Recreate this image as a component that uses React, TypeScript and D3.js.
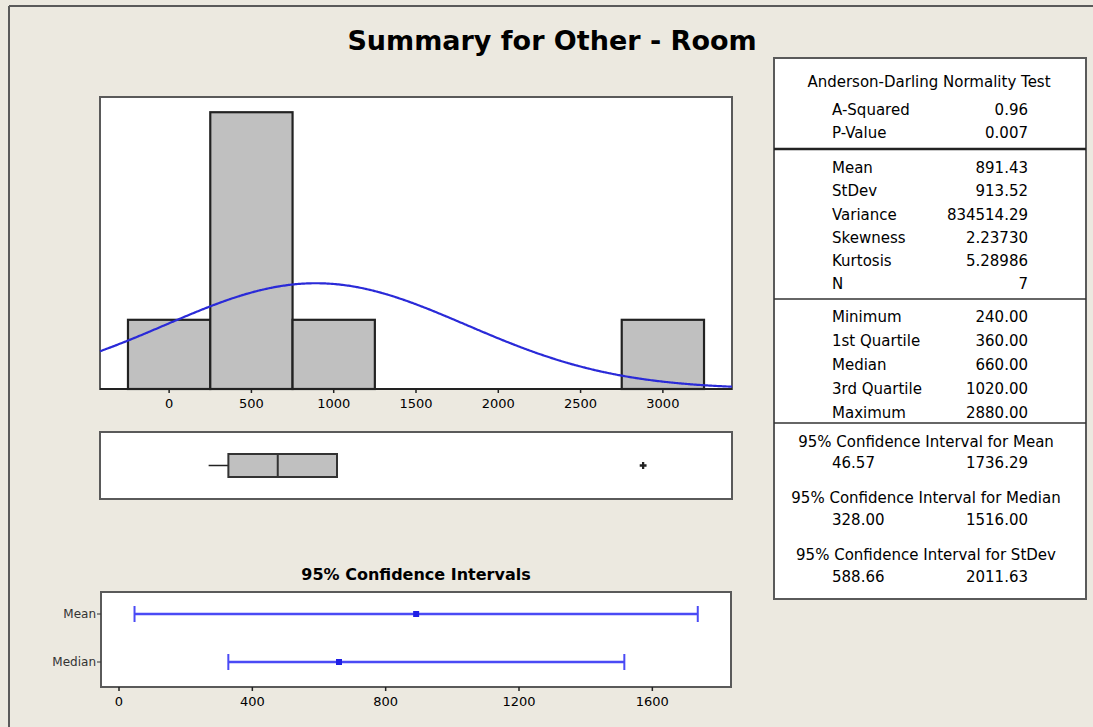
import React from "react";
import * as d3 from "d3";

// histogram
const binStarts = [-250, 250, 750, 1250, 1750, 2250, 2750];
const binCounts = [1, 4, 1, 0, 0, 0, 1];
const binWidth = 500;
const histTicks = [0, 500, 1000, 1500, 2000, 2500, 3000];

// normal fit
const mean = 891.43;
const stdev = 913.52;
const n = 7;

// box plot
const quartiles = [360, 660, 1020];
const whiskers = [240, 1020];
const outliers = [2880];

// confidence intervals
const ciNames = ["Mean", "Median"];
const ciLow = [46.57, 328.0];
const ciHigh = [1736.29, 1516.0];
const ciCenter = [891.43, 660.0];
const ciTicks = [0, 400, 800, 1200, 1600];

// stats table
const adLabels = ["A-Squared", "P-Value"];
const adValues = ["0.96", "0.007"];
const momentLabels = ["Mean", "StDev", "Variance", "Skewness", "Kurtosis", "N"];
const momentValues = ["891.43", "913.52", "834514.29", "2.23730", "5.28986", "7"];
const quantLabels = ["Minimum", "1st Quartile", "Median", "3rd Quartile", "Maximum"];
const quantValues = ["240.00", "360.00", "660.00", "1020.00", "2880.00"];
const ciTitles = [
  "95% Confidence Interval for Mean",
  "95% Confidence Interval for Median",
  "95% Confidence Interval for StDev",
];
const ciTableLow = ["46.57", "328.00", "588.66"];
const ciTableHigh = ["1736.29", "1516.00", "2011.63"];

const W = 1093;
const H = 727;
const BG = "#ece9e0";
const FRAME = "#5a5a5a";
const FONT = "'DejaVu Sans', Verdana, sans-serif";

const Histogram = ({ x }) => {
  const top = 97, bottom = 389;
  const y = d3.scaleLinear().domain([0, 4.22]).range([bottom, top]);
  const [x0, x1] = x.range();
  const curveX = d3.range(x.domain()[0], x.domain()[1] + 1, 10);
  const pdf = v => (n * binWidth) / (stdev * Math.sqrt(2 * Math.PI)) * Math.exp(-0.5 * ((v - mean) / stdev) ** 2);
  const line = d3.line().x(d => x(d)).y(d => y(pdf(d))).curve(d3.curveBasis);
  return (
    <g>
      <rect x={x0} y={top} width={x1 - x0} height={bottom - top} fill="white" stroke={FRAME} strokeWidth={2} />
      {binStarts.map((b, i) => binCounts[i] > 0 && (
        <rect key={i} x={x(b)} y={y(binCounts[i])} width={x(b + binWidth) - x(b)} height={y(0) - y(binCounts[i])}
          fill="#c0c0c0" stroke="#222" strokeWidth={2.2} />
      ))}
      <line x1={x0} x2={x1} y1={bottom} y2={bottom} stroke="#222" strokeWidth={2.2} />
      <path d={line(curveX)} fill="none" stroke="#2a2ad8" strokeWidth={2.2} />
      {histTicks.map(t => (
        <g key={t} transform={`translate(${x(t)},${bottom})`}>
          <line y1={0} y2={4} stroke="#222" strokeWidth={1.5} />
          <text y={19} textAnchor="middle" fontSize={13} fontFamily={FONT}>{t}</text>
        </g>
      ))}
    </g>
  );
};

const BoxPlot = ({ x }) => {
  const top = 432, bottom = 499;
  const [x0, x1] = x.range();
  const mid = (top + bottom) / 2;
  const bh = 23;
  return (
    <g>
      <rect x={x0} y={top} width={x1 - x0} height={bottom - top} fill="white" stroke={FRAME} strokeWidth={2} />
      <line x1={x(whiskers[0])} x2={x(quartiles[0])} y1={mid} y2={mid} stroke="#222" strokeWidth={1.5} />
      <line x1={x(quartiles[2])} x2={x(whiskers[1])} y1={mid} y2={mid} stroke="#222" strokeWidth={1.5} />
      <rect x={x(quartiles[0])} y={mid - bh / 2} width={x(quartiles[2]) - x(quartiles[0])} height={bh}
        fill="#c0c0c0" stroke="#333" strokeWidth={2} />
      <line x1={x(quartiles[1])} x2={x(quartiles[1])} y1={mid - bh / 2} y2={mid + bh / 2} stroke="#333" strokeWidth={2} />
      {outliers.map(o => (
        <path key={o} transform={`translate(${x(o)},${mid})`} d={d3.symbol(d3.symbolCross, 26)()} fill="#222" />
      ))}
    </g>
  );
};

const ConfIntervals = () => {
  const top = 592, bottom = 687, left = 101, right = 731;
  const x = d3.scaleLinear().domain([-54, 1836]).range([left, right]);
  const y = d3.scalePoint().domain(ciNames).range([614, 662]);
  return (
    <g>
      <text x={416} y={580} textAnchor="middle" fontSize={16} fontWeight="bold" fontFamily={FONT}>95% Confidence Intervals</text>
      <rect x={left} y={top} width={right - left} height={bottom - top} fill="white" stroke={FRAME} strokeWidth={2} />
      {ciNames.map((name, i) => {
        const yy = y(name);
        return (
          <g key={name}>
            <line x1={left - 4} x2={left} y1={yy} y2={yy} stroke="#333" strokeWidth={1} />
            <text x={left - 5} y={yy} dy="0.35em" textAnchor="end" fontSize={12} fontFamily={FONT} fill="#333">{name}</text>
            <line x1={x(ciLow[i])} x2={x(ciHigh[i])} y1={yy} y2={yy} stroke="#4a4af5" strokeWidth={2.5} />
            <line x1={x(ciLow[i])} x2={x(ciLow[i])} y1={yy - 8} y2={yy + 8} stroke="#4a4af5" strokeWidth={2} />
            <line x1={x(ciHigh[i])} x2={x(ciHigh[i])} y1={yy - 8} y2={yy + 8} stroke="#4a4af5" strokeWidth={2} />
            <rect x={x(ciCenter[i]) - 3} y={yy - 3} width={6} height={6} fill="#1f1fe6" />
          </g>
        );
      })}
      {ciTicks.map(t => (
        <g key={t} transform={`translate(${x(t)},${bottom})`}>
          <line y1={0} y2={4} stroke="#222" strokeWidth={1.5} />
          <text y={19} textAnchor="middle" fontSize={13} fontFamily={FONT}>{t}</text>
        </g>
      ))}
    </g>
  );
};

const StatsTable = () => {
  const left = 774, right = 1086, top = 58, bottom = 599;
  const lx = 832, rx = 1028, cx = (left + right) / 2;
  const fs = 15;
  const row = (label, value, y, key) => (
    <g key={key}>
      <text x={lx} y={y} dy="0.35em" fontSize={fs} fontFamily={FONT}>{label}</text>
      <text x={rx} y={y} dy="0.35em" textAnchor="end" fontSize={fs} fontFamily={FONT}>{value}</text>
    </g>
  );
  const adY = d3.scaleLinear().domain([0, 1]).range([110, 133]);
  const momY = d3.scaleLinear().domain([0, 5]).range([168, 284]);
  const qY = d3.scaleLinear().domain([0, 4]).range([317, 413]);
  const ciTitleY = [442, 498, 555];
  const ciValY = [463, 520, 577];
  return (
    <g>
      <rect x={left} y={top} width={right - left} height={bottom - top} fill="white" stroke={FRAME} strokeWidth={2} />
      <line x1={left} x2={right} y1={149} y2={149} stroke="#222" strokeWidth={2.5} />
      <line x1={left} x2={right} y1={299} y2={299} stroke="#333" strokeWidth={1.5} />
      <line x1={left} x2={right} y1={423} y2={423} stroke="#333" strokeWidth={1.5} />
      <text x={cx - 1} y={82} dy="0.35em" textAnchor="middle" fontSize={fs} fontFamily={FONT}>Anderson-Darling Normality Test</text>
      {adLabels.map((l, i) => row(l, adValues[i], adY(i), "ad" + i))}
      {momentLabels.map((l, i) => row(l, momentValues[i], momY(i), "m" + i))}
      {quantLabels.map((l, i) => row(l, quantValues[i], qY(i), "q" + i))}
      {ciTitles.map((t, i) => (
        <g key={t}>
          <text x={cx - 4} y={ciTitleY[i]} dy="0.35em" textAnchor="middle" fontSize={fs} fontFamily={FONT}>{t}</text>
          {row(ciTableLow[i], ciTableHigh[i], ciValY[i], "c" + i)}
        </g>
      ))}
    </g>
  );
};

const App = () => {
  const x = d3.scaleLinear().domain([-420, 3420]).range([100, 732]);
  return (
    <svg width={W} height={H} style={{ position: "absolute", left: 0, top: 0 }}>
      <rect width={W} height={H} fill={BG} />
      <line x1={9} x2={W} y1={6} y2={6} stroke={FRAME} strokeWidth={2} />
      <line x1={9} x2={9} y1={6} y2={H} stroke={FRAME} strokeWidth={2} />
      <text x={552} y={50} textAnchor="middle" fontSize={27} fontWeight="bold" fontFamily={FONT}>Summary for Other - Room</text>
      <Histogram x={x} />
      <BoxPlot x={x} />
      <ConfIntervals />
      <StatsTable />
    </svg>
  );
};

export default App;
